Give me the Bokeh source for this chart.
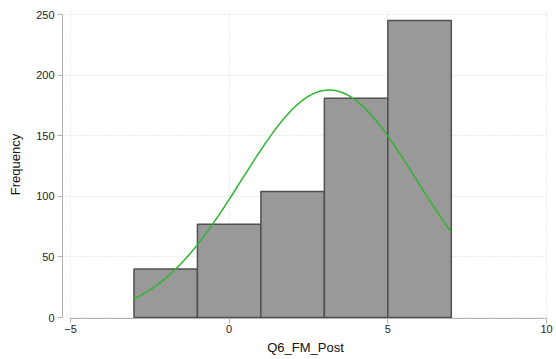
import numpy as np
from bokeh.plotting import figure
from bokeh.models import FixedTicker, Range1d
from bokeh.embed import file_html
from bokeh.resources import INLINE

# Histogram bins (width 2) and frequencies
bin_left = [-3, -1, 1, 3, 5]
bin_right = [-1, 1, 3, 5, 7]
freq = [40, 77, 104, 181, 245]

# Normal overlay parameters (mean, sd of the variable)
mean_val = 3.15
sd_val = 2.75
bin_width = 2

x_ticks = [-5, 0, 5, 10]
y_ticks = [0, 50, 100, 150, 200, 250]

FONT = "Liberation Sans"

p = figure(width=556, height=359, output_backend="svg", toolbar_location=None,
           x_range=Range1d(-5.252, 10.063), y_range=Range1d(-0.8, 253.3),
           min_border_left=62, min_border_right=8, min_border_top=10, min_border_bottom=41)
p.outline_line_color = None
p.background_fill_color = "white"
p.border_fill_color = "white"

p.quad(left=bin_left, right=bin_right, bottom=0, top=freq,
       fill_color="#999999", line_color="#505050", line_width=1.5)

n_total = sum(freq)
xs = np.linspace(min(bin_left), max(bin_right), 200)
ys = n_total * bin_width * np.exp(-0.5 * ((xs - mean_val) / sd_val) ** 2) / (sd_val * np.sqrt(2 * np.pi))
p.line(xs, ys, line_color="#2fb52f", line_width=1.5)

for ax in (p.xaxis[0], p.yaxis[0]):
    ax.axis_line_color = "#b3b3b3"
    ax.major_tick_line_color = "#b3b3b3"
    ax.minor_tick_line_color = None
    ax.major_tick_in = 0
    ax.major_tick_out = 5
    ax.major_label_text_font = FONT
    ax.major_label_text_font_size = "11px"
    ax.major_label_text_color = "#222222"
    ax.axis_label_text_font = FONT
    ax.axis_label_text_font_size = "13px"
    ax.axis_label_text_font_style = "normal"
    ax.axis_label_text_color = "#111111"

p.xaxis.ticker = FixedTicker(ticks=x_ticks)
p.yaxis.ticker = FixedTicker(ticks=y_ticks)
p.xaxis.bounds = (x_ticks[0], x_ticks[-1])
p.yaxis.bounds = (y_ticks[0], y_ticks[-1])
p.xaxis.axis_label = "Q6_FM_Post"
p.yaxis.axis_label = "Frequency"
p.xaxis.major_label_standoff = 1
p.xaxis.axis_label_standoff = 4
p.yaxis.major_label_standoff = 3
p.yaxis.axis_label_standoff = 10
p.yaxis.major_label_orientation = "horizontal"

p.xgrid.ticker = FixedTicker(ticks=x_ticks)
p.ygrid.ticker = FixedTicker(ticks=y_ticks)
for g in (p.xgrid[0], p.ygrid[0]):
    g.grid_line_color = "#d8d8d8"
    g.grid_line_dash = "1 2"
    g.grid_line_width = 1

open("out.html", "w").write(file_html(p, INLINE))
